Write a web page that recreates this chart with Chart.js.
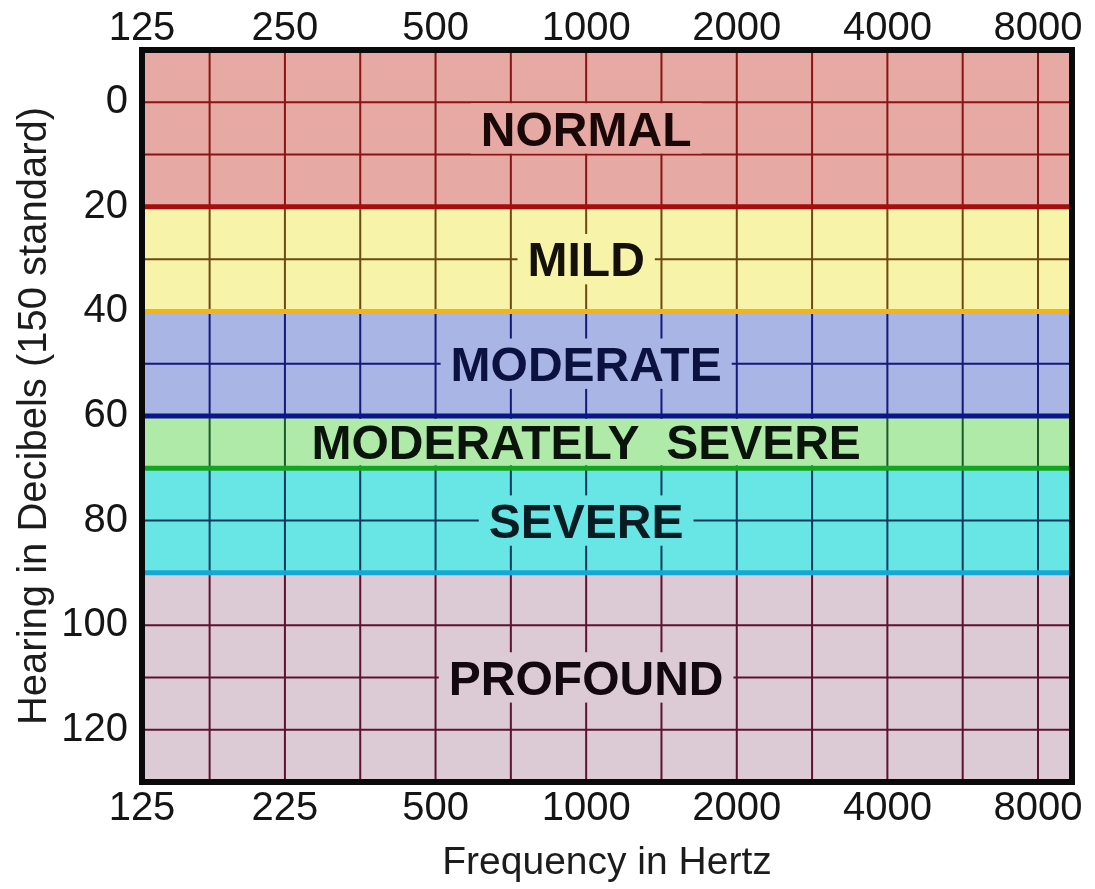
<!DOCTYPE html>
<html><head><meta charset="utf-8">
<script src="https://cdn.jsdelivr.net/npm/chart.js@4.4.1/dist/chart.umd.min.js"></script>
<style>html,body{margin:0;padding:0;background:#fff}#wrap{width:1095px;height:889px;position:relative}</style>
</head><body><div id="wrap"><canvas id="c"></canvas></div>
<script>
// ---- data ----
const bandNames = ['NORMAL','MILD','MODERATE','MODERATELY  SEVERE','SEVERE','PROFOUND'];
const bandTopDb = [-10,20,40,60,70,90];
const bandBottomDb = [20,40,60,70,90,130];
const bandLabelDb = [5,30,50,65,80,110];
const bandFill = ['#e6a9a3','#f7f3a8','#a9b5e5','#afeaa8','#68e6e6','#dccbd4'];
const bandGrid = ['#8a1414','#6e4a12','#14197a','#1d5a2a','#0c3a5c','#5e1232'];
const bandEdge = ['#a80c0c','#f2b512','#0c168c','#14a424','#16a8d4',null];
const bandText = ['#1a0808','#141008','#0c1240','#0a140a','#081c24','#140810'];
const octaveFreqs = [125,250,500,1000,2000,4000,8000];
const topTickLabels = ['125','250','500','1000','2000','4000','8000'];
const bottomTickLabels = ['125','225','500','1000','2000','4000','8000'];
const yTickValues = [0,20,40,60,80,100,120];
const labelFreq = 1000;

const X_MIN = 129.5, X_MAX = 9355, Y_MIN = -10, Y_MAX = 130;
const FONT = "'Liberation Sans', Arial, Helvetica, sans-serif";

// grid positions: octaves and half-octaves inside the range
const gridFreqs = octaveFreqs.concat(octaveFreqs.map(f => f * Math.SQRT2))
  .filter(f => f > X_MIN && f < X_MAX).sort((a,b)=>a-b);

const datasets = [];
// boundary lines (drawn on top)
bandBottomDb.forEach((b, i) => {
  if (!bandEdge[i]) return;
  datasets.push({
    data: [{x: X_MIN, y: b}, {x: X_MAX, y: b}],
    borderColor: bandEdge[i], borderWidth: 5, pointRadius: 0, fill: false, order: 1
  });
});
// grid per band
bandNames.forEach((n, i) => {
  const top = bandTopDb[i], bot = bandBottomDb[i];
  const pts = [];
  gridFreqs.forEach(f => { pts.push({x: f, y: top}, {x: f, y: bot}, {x: f, y: null}); });
  for (let v = Math.floor(top / 10) * 10 + 10; v < bot; v += 10) {
    pts.push({x: X_MIN, y: v}, {x: X_MAX, y: v}, {x: X_MAX, y: null});
  }
  datasets.push({
    data: pts, borderColor: bandGrid[i], borderWidth: 2, pointRadius: 0,
    fill: false, spanGaps: false, order: 2
  });
});
// band fills
bandNames.forEach((n, i) => {
  datasets.push({
    data: [{x: X_MIN, y: bandBottomDb[i]}, {x: X_MAX, y: bandBottomDb[i]}],
    borderColor: 'rgba(0,0,0,0)', borderWidth: 0, pointRadius: 0,
    backgroundColor: bandFill[i], fill: {value: bandTopDb[i]}, order: 3
  });
});

const labelPlugin = {
  id: 'bandLabels',
  afterDatasetsDraw(chart) {
    const ctx = chart.ctx, xs = chart.scales.x, ys = chart.scales.y;
    ctx.save();
    ctx.font = "bold 48px " + FONT;
    const cap = 0.716 * 48;
    bandNames.forEach((name, i) => {
      const cx = xs.getPixelForValue(labelFreq);
      const cy = ys.getPixelForValue(bandLabelDb[i]);
      const w = ctx.measureText(name).width;
      const t = Math.max(cy - cap / 2 - 8, ys.getPixelForValue(bandTopDb[i]) + 3);
      const b = Math.min(cy + cap / 2 + 8, ys.getPixelForValue(bandBottomDb[i]) - 3);
      ctx.fillStyle = bandFill[i];
      ctx.fillRect(cx - w / 2 - 10, t, w + 20, b - t);
      ctx.fillStyle = bandText[i];
      ctx.textAlign = 'center';
      ctx.textBaseline = 'alphabetic';
      ctx.fillText(name, cx, cy + cap / 2);
    });
    const a = chart.chartArea;
    ctx.strokeStyle = '#0a0a0a';
    ctx.lineWidth = 6;
    ctx.strokeRect(a.left, a.top, a.right - a.left, a.bottom - a.top);
    ctx.restore();
  }
};

const tickFont = {family: FONT, size: 40};
const xTicks = (labels) => ({
  autoSkip: false, maxRotation: 0, minRotation: 0, font: tickFont, color: '#151515',
  callback: (v, i) => labels[i]
});
const setOctaveTicks = s => { s.ticks = octaveFreqs.map(v => ({value: Math.max(v, X_MIN)})); };

new Chart(document.getElementById('c'), {
  type: 'line',
  data: {datasets},
  options: {
    responsive: true, maintainAspectRatio: false, animation: false,
    layout: {padding: {left: 0, right: 23, top: 0, bottom: 0}},
    plugins: {legend: {display: false}, tooltip: {enabled: false}},
    events: [],
    scales: {
      x: {
        type: 'logarithmic', position: 'bottom', min: X_MIN, max: X_MAX,
        grid: {display: false, drawTicks: false, tickLength: 0},
        border: {display: false},
        ticks: Object.assign(xTicks(bottomTickLabels), {padding: 3}),
        afterBuildTicks: setOctaveTicks,
        afterFit: s => { s.height = 107; },
        title: {display: true, text: 'Frequency in Hertz', font: {family: FONT, size: 39}, color: '#1c1c1c', padding: {top: 0, bottom: 2}}
      },
      x2: {
        type: 'logarithmic', position: 'top', min: X_MIN, max: X_MAX,
        grid: {display: false, drawTicks: false, tickLength: 0},
        border: {display: false},
        ticks: Object.assign(xTicks(topTickLabels), {padding: -3}),
        afterBuildTicks: setOctaveTicks,
        afterFit: s => { s.height = 50; }
      },
      y: {
        type: 'linear', reverse: true, min: Y_MIN, max: Y_MAX,
        grid: {display: false, drawTicks: false, tickLength: 0},
        border: {display: false},
        ticks: {font: tickFont, color: '#151515', padding: 14, callback: v => String(v)},
        afterBuildTicks: s => { s.ticks = yTickValues.map(v => ({value: v})); },
        afterFit: s => { s.width = 142; },
        title: {display: true, text: 'Hearing in Decibels (150 standard)', font: {family: FONT, size: 40}, color: '#1c1c1c', padding: 11}
      }
    }
  },
  plugins: [labelPlugin]
});
</script></body></html>
